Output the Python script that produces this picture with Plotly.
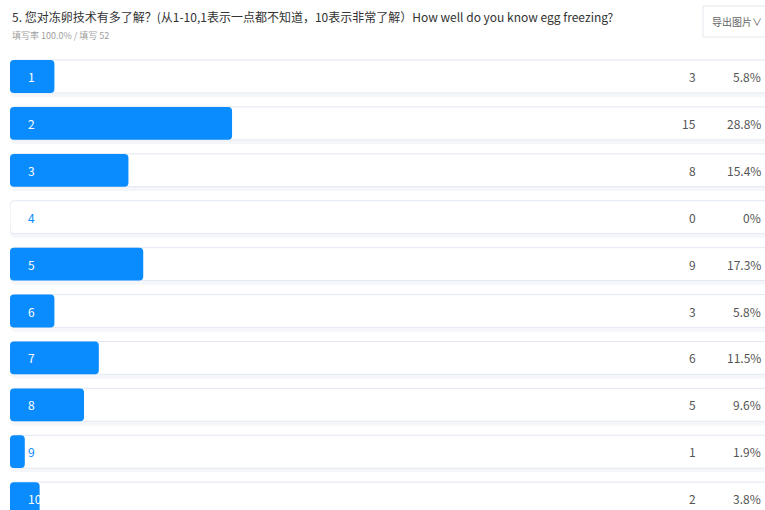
import plotly.graph_objects as go

categories = ["1", "2", "3", "4", "5", "6", "7", "8", "9", "10"]
counts = [3, 15, 8, 0, 9, 3, 6, 5, 1, 2]
percents = ["5.8%", "28.8%", "15.4%", "0%", "17.3%", "5.8%", "11.5%", "9.6%", "1.9%", "3.8%"]
total = 52
title_text = "5. 您对冻卵技术有多了解？(从1-10,1表示一点都不知道，10表示非常了解）How well do you know egg freezing?"
subtitle_text = "填写率 100.0% / 填写 52"

BLUE = "#0a8cff"
FONT = "Noto Sans CJK SC"

W, H, L = 765, 510, 10


def px(x):
    return (x - L) / (W - L)


def py(y):
    return 1 - y / H


idx = list(range(len(categories)))
track_len = 70

fig = go.Figure()
# shadow under each row
fig.add_trace(go.Bar(
    y=idx, x=[-track_len] * len(idx), base=[track_len] * len(idx), orientation="h",
    width=0.80, offset=-0.36, marker=dict(color="#f4f6fa", line=dict(width=0), cornerradius=5),
    hoverinfo="skip", showlegend=False))
# track
fig.add_trace(go.Bar(
    y=idx, x=[-track_len] * len(idx), base=[track_len] * len(idx), orientation="h",
    width=0.70, marker=dict(color="white", line=dict(color="#e3e8f2", width=1), cornerradius=4),
    hoverinfo="skip", showlegend=False))
# values
fig.add_trace(go.Bar(
    y=idx, x=[-c for c in counts], base=counts, orientation="h",
    width=0.70, marker=dict(color=BLUE, line=dict(width=0), cornerradius=4),
    hoverinfo="skip", showlegend=False))

px_per_unit = 755 / 51.0
label_x = 16 / px_per_unit  # label position in data units
annotations = []
for i, (cat, c, p) in enumerate(zip(categories, counts, percents)):
    covered = c >= (label_x + 0.35 * len(cat))
    annotations.append(dict(x=label_x, y=i, xref="x", yref="y", text=cat, showarrow=False,
                            xanchor="left", font=dict(family=FONT, size=12,
                                                      color="white" if covered else BLUE)))
    annotations.append(dict(x=px(698), y=i, xref="paper", yref="y", text=str(c), showarrow=False,
                            xanchor="right", font=dict(family=FONT, size=12, color="#555555")))
    annotations.append(dict(x=px(763), y=i, xref="paper", yref="y", text=p, showarrow=False,
                            xanchor="right", font=dict(family=FONT, size=12, color="#555555")))

annotations.append(dict(x=px(10), y=py(17), xref="paper", yref="paper", text=title_text,
                        showarrow=False, xanchor="left", yanchor="middle",
                        font=dict(family=FONT, size=12, color="#333333")))
annotations.append(dict(x=px(10), y=py(36), xref="paper", yref="paper", text=subtitle_text,
                        showarrow=False, xanchor="left", yanchor="middle",
                        font=dict(family=FONT, size=9, color="#a0a0a0")))
annotations.append(dict(x=px(710), y=py(22), xref="paper", yref="paper", text="导出图片∨",
                        showarrow=False, xanchor="left", yanchor="middle",
                        font=dict(family=FONT, size=10, color="#666666")))

shapes = [dict(type="rect", xref="paper", yref="paper",
               x0=px(703), x1=px(775), y0=py(37), y1=py(6),
               line=dict(color="#e4e7ed", width=1), fillcolor="white", layer="below")]

fig.update_layout(
    width=W, height=H, barmode="overlay",
    margin=dict(l=L, r=0, t=0, b=0),
    paper_bgcolor="white", plot_bgcolor="white",
    xaxis=dict(range=[0, 51], visible=False, fixedrange=True),
    yaxis=dict(range=[9.243, -1.631], visible=False, fixedrange=True),
    annotations=annotations, shapes=shapes,
    font=dict(family=FONT),
)
fig.write_html("out.html", config={"displayModeBar": False},
               post_script="document.body.style.margin='0';")
